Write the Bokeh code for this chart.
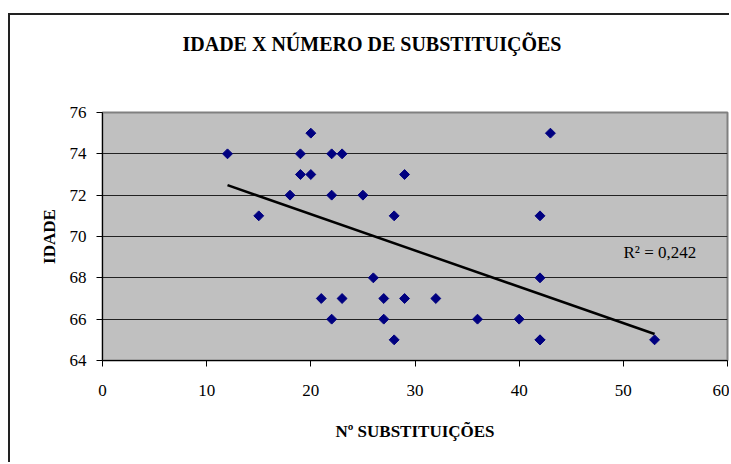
import numpy as np
from bokeh.plotting import figure
from bokeh.models import Range1d, Label, FixedTicker
from bokeh.embed import file_html
from bokeh.resources import INLINE

# ---- data ----
substituicoes = [12, 15, 18, 19, 19, 20, 20, 22, 23, 22, 25, 29, 28, 26, 21,
                 23, 22, 27, 27, 29, 28, 32, 36, 40, 42, 42, 42, 42, 43, 53]
idade = [74, 71, 72, 74, 73, 75, 73, 74, 74, 72, 72, 73, 71, 68, 67,
         67, 66, 67, 66, 67, 65, 67, 66, 66, 71, 68, 65, 65, 75, 65]
x_ticks = [0, 10, 20, 30, 40, 50, 60]
y_ticks = [64, 66, 68, 70, 72, 74, 76]
title_text = "IDADE X NÚMERO DE SUBSTITUIÇÕES"
x_label = "Nº SUBSTITUIÇÕES"
y_label = "IDADE"
r2_text = "R² = 0,242"

FONT = "Liberation Serif"

# linear trend line computed from the data
xs = np.array(substituicoes, dtype=float)
ys = np.array(idade, dtype=float)
slope, intercept = np.polyfit(xs, ys, 1)
x_fit = np.array([xs.min(), xs.max()])
y_fit = slope * x_fit + intercept

W, H = 721, 449
p = figure(width=W, height=H, output_backend="svg", toolbar_location=None,
           x_range=Range1d(x_ticks[0], x_ticks[-1]),
           y_range=Range1d(y_ticks[0], y_ticks[-1]),
           min_border_left=92, min_border_right=4,
           min_border_top=97, min_border_bottom=104)
p.margin = (13, 0, 0, 8)
p.styles = {"border-left": "2px solid #222", "border-top": "2px solid #222"}

# title: blank lines below the text lift it well above the plot area
p.title.text = title_text + "\n\n"
p.title.text_font = FONT
p.title.text_font_style = "bold"
p.title.text_font_size = "20px"
p.title.text_color = "black"
p.title.align = "left"
p.title.offset = 80
p.title.vertical_align = "bottom"
p.title.standoff = 28

p.background_fill_color = "#C0C0C0"
p.border_fill_color = "white"
p.outline_line_color = "#808080"
p.outline_line_width = 2

p.xgrid.visible = False
p.ygrid.grid_line_color = "#222222"
p.ygrid.grid_line_width = 1

for ax in (p.xaxis, p.yaxis):
    ax.axis_line_color = "black"
    ax.axis_line_width = 1
    ax.major_tick_line_color = "black"
    ax.major_tick_out = 6
    ax.major_tick_in = 0
    ax.minor_tick_line_color = None
    ax.major_label_text_font = FONT
    ax.major_label_text_font_size = "17px"
    ax.major_label_text_color = "black"
    ax.axis_label_text_font = FONT
    ax.axis_label_text_font_style = "bold"
    ax.axis_label_text_font_size = "17px"
    ax.axis_label_text_color = "black"

p.xaxis.ticker = FixedTicker(ticks=x_ticks)
p.yaxis.ticker = FixedTicker(ticks=y_ticks)
p.xaxis.axis_label = x_label
p.yaxis.axis_label = y_label
p.xaxis.major_label_standoff = 18
p.yaxis.major_label_standoff = 10
p.xaxis.axis_label_standoff = 23
p.yaxis.axis_label_standoff = 8

p.scatter(substituicoes, idade, marker="square", size=7, angle=np.pi / 4,
          fill_color="#000080", line_color="#000080")
p.line(x_fit, y_fit, line_color="black", line_width=2.5)

p.add_layout(Label(x=521, y=108, x_units="screen", y_units="screen",
                   text=r2_text, text_font=FONT, text_font_size="17px",
                   text_align="left", text_baseline="middle", text_color="black"))

open("out.html", "w").write(file_html(p, INLINE))
